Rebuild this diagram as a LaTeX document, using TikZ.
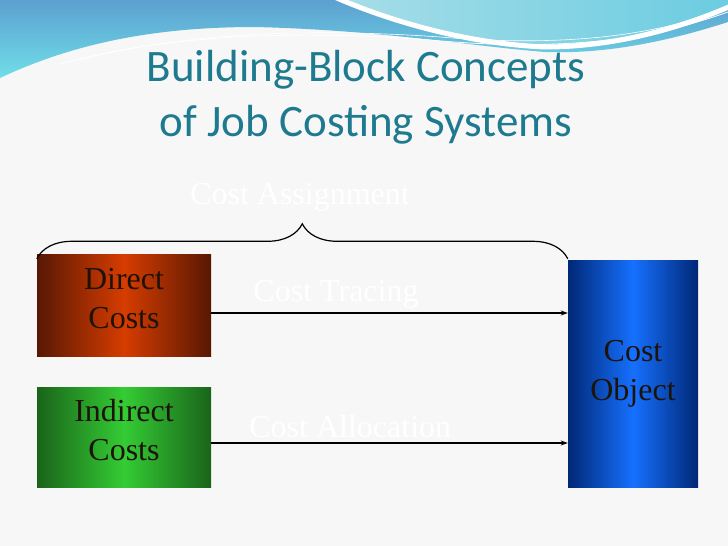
\documentclass[tikz,border=0pt]{standalone}
\usepackage{fontspec}
\newfontfamily\titlefont{Carlito}
\newfontfamily\boxfont{Liberation Serif}
\usetikzlibrary{arrows.meta,positioning,calc,decorations.pathreplacing}

\definecolor{pagebg}{RGB}{247,247,247}
\definecolor{titleteal}{RGB}{30,122,142}
\definecolor{wavetop}{RGB}{92,160,208}
\definecolor{wavelow}{RGB}{112,222,232}
\definecolor{wavepale}{RGB}{168,222,232}
\definecolor{brownedge}{RGB}{88,24,4}
\definecolor{brownmid}{RGB}{214,60,0}
\definecolor{greenedge}{RGB}{26,100,26}
\definecolor{greenmid}{RGB}{52,204,52}
\definecolor{blueedge}{RGB}{0,40,118}
\definecolor{bluemid}{RGB}{22,112,255}

\newcommand{\lowstrut}{\rule[-14pt]{0pt}{14pt}}

\tikzset{
  costbox/.style={draw=none,minimum width=174pt,minimum height=102pt,inner sep=0pt,
    align=center,text=black!85!brown,font=\boxfont\fontsize{32}{39}\selectfont},
  flow/.style={line width=1.2pt,-{Stealth[length=7pt,width=5pt]}},
  ghost/.style={text=white,font=\boxfont\fontsize{32}{36}\selectfont},
  assignbrace/.style={line width=1.2pt,decorate,decoration={brace,amplitude=35pt}}
}

\begin{document}
\begin{tikzpicture}[x=1pt,y=-1pt]
  \useasboundingbox (0,0) rectangle (728,546);
  \fill[pagebg] (0,0) rectangle (728,546);

  % header waves
  \shade[top color=wavetop,bottom color=wavelow]
    (0,0) -- (728,0) -- (728,22) .. controls (660,44) and (600,54) .. (545,52)
    .. controls (470,46) and (380,30) .. (255,27) .. controls (150,27) and (70,45) .. (0,78) -- cycle;
  \shade[left color=wavepale,right color=wavelow!70!wavetop,draw=white,line width=5pt]
    (330,-5) .. controls (390,22) and (470,44) .. (545,47) .. controls (620,47) and (690,25) .. (740,2) -- (740,-5) -- cycle;
  \draw[white,line width=0.8pt] (60,64) .. controls (180,30) and (330,32) .. (430,40)
    .. controls (560,52) and (650,40) .. (728,12);
  \draw[white,line width=0.6pt] (80,60) .. controls (200,28) and (340,30) .. (440,37)
    .. controls (570,48) and (660,34) .. (728,8);

  \node[text=titleteal,align=center,font=\titlefont\fontsize{45}{55}\selectfont] (title) at (366,97)
    {Building-Block Concepts\\of Job Costing Systems};

  % boxes
  \node[costbox,left color=brownedge,right color=brownedge,middle color=brownmid] (direct) at (124,305) {Direct\\Costs\lowstrut};
  \node[costbox,minimum height=100pt,left color=greenedge,right color=greenedge,middle color=greenmid] (indirect) at (124,437) {Indirect\\Costs\lowstrut};
  \node[costbox,minimum width=130pt,minimum height=227pt,left color=blueedge,right color=blueedge,middle color=bluemid] (costobj) at (633,373.5) {Cost\\Object};

  % connectors
  \draw[flow] ([yshift=-8pt]direct.east) -- ([yshift=-8pt]direct.east -| costobj.west)
    node[ghost,pos=.35,above=1pt] (tracing) {Cost Tracing};
  \draw[flow] ([yshift=-6pt]indirect.east) -- ([yshift=-6pt]indirect.east -| costobj.west)
    node[ghost,pos=.39,above=1pt] (alloc) {Cost Allocation};
  \coordinate (braceL) at ([yshift=-5pt]direct.north west);
  \coordinate (braceR) at (braceL -| costobj.west);
  \draw[assignbrace] (braceL) -- (braceR);
  \node[ghost] (assign) at (300,197) {Cost Assignment};
\end{tikzpicture}
\end{document}
